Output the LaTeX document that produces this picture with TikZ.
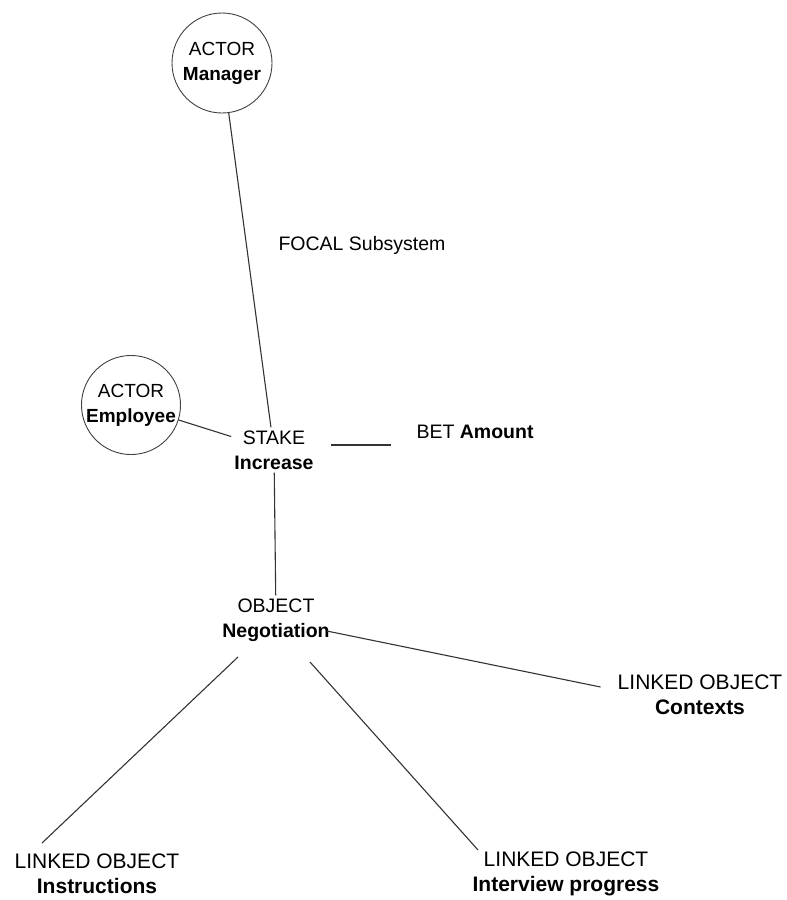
\documentclass[tikz,border=0pt]{standalone}
\usepackage{fontspec}
\setmainfont{Liberation Sans}
\usetikzlibrary{calc}
\tikzset{
  lbl/.style={align=center, inner sep=3pt, font=\fontsize{19.5}{25}\selectfont},
  linked/.style={align=center, inner sep=3pt, font=\fontsize{21}{25}\selectfont},
  actor/.style={circle, draw=black!75, line width=0.9pt, inner sep=0pt, align=center, font=\fontsize{19}{25}\selectfont},
  link/.style={draw=black!80, line width=1.1pt}
}
\begin{document}
\begin{tikzpicture}[x=1pt,y=-1pt]
\useasboundingbox (0,0) rectangle (787,900);
\node[actor, minimum size=100pt] (manager) at (222,63) {ACTOR\\\textbf{Manager}};
\node[actor, minimum size=96pt] (employee) at (131,405) {ACTOR\\\textbf{Employee}};
\node[lbl] (stake) at (274,450) {STAKE\\\textbf{Increase}};
\node[lbl] (bet) at (475,432) {BET \textbf{Amount}};
\node[lbl] (focal) at (362,245) {FOCAL Subsystem};
\node[lbl] (object) at (276,620) {OBJECT\\\textbf{Negotiation}};
\node[linked] (contexts) at (700,695) {LINKED OBJECT\\\textbf{Contexts}};
\node[linked] (instructions) at (97,874) {LINKED OBJECT\\\textbf{Instructions}};
\node[linked] (interview) at (566,874) {LINKED OBJECT\\\textbf{Interview progress}};

\draw[link] (manager) -- (stake);
\draw[link] (employee) -- (stake);
\draw[link] ($(stake.east)+(14,-5)$) -- ($(bet.west)+(-22,13)$);
\draw[link] (stake) -- (object);
\draw[link] ($(object.east)+(-6,11)$) -- ($(contexts.west)+(-14,-8)$);
\draw[link] ($(object)+(-38,37)$) -- ($(instructions)+(-55,-31)$);
\draw[link] ($(object)+(34,42)$) -- ($(interview)+(-88,-24)$);
\end{tikzpicture}
\end{document}
